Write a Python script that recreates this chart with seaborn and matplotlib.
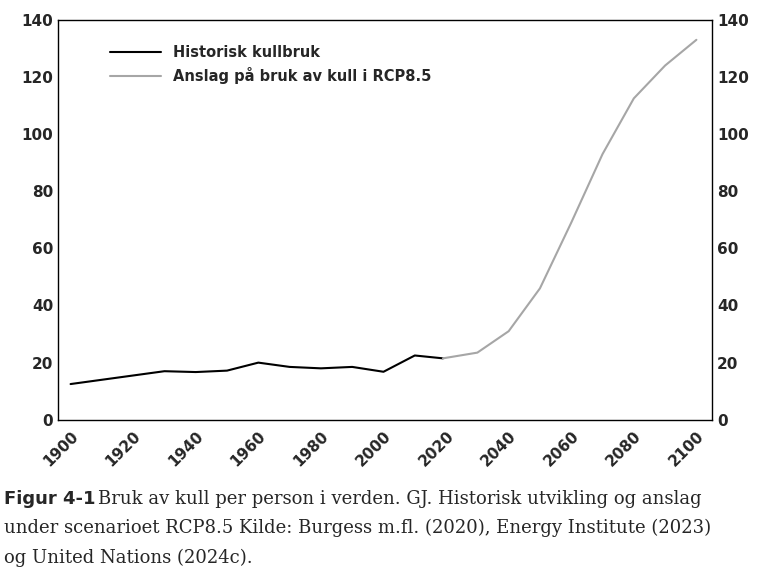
import numpy as np
import pandas as pd
import matplotlib.pyplot as plt
import seaborn as sns

hist_years = [1900, 1910, 1920, 1930, 1940, 1950, 1960, 1970, 1980, 1990, 2000, 2010, 2019]
hist_values = [12.5, 14, 15.5, 17, 16.7, 17.2, 20, 18.5, 18, 18.5, 16.8, 22.5, 21.5]
proj_years = [2019, 2030, 2040, 2050, 2060, 2070, 2080, 2090, 2100]
proj_values = [21.5, 23.5, 31, 46, 69, 93, 112.5, 124, 133]
x_ticks = list(range(1900, 2101, 20))

sns.set_style('white')
fig, ax = plt.subplots(figsize=(7.64, 5.83), dpi=100)
fig.subplots_adjust(left=0.076, right=0.932, top=0.966, bottom=0.28)

# Historical and projected series
sns.lineplot(x=hist_years, y=hist_values, ax=ax, color='black', lw=1.5, label='Historisk kullbruk')
sns.lineplot(x=proj_years, y=proj_values, ax=ax, color='#a6a6a6', lw=1.5, label='Anslag på bruk av kull i RCP8.5')

ax.set_xlim(1896, 2105)
ax.set_ylim(0, 140)
ax.set_xticks(x_ticks)
ax.set_xticklabels(x_ticks, rotation=45, ha='right', rotation_mode='anchor', fontsize=11, fontweight='bold')
ax.set_yticks(range(0, 141, 20))
ax.tick_params(axis='y', labelsize=11, labelright=True, right=True, length=0)
ax.tick_params(axis='x', length=0, pad=6)
for lbl in ax.get_yticklabels():
    lbl.set_fontweight('bold')
for s in ax.spines.values():
    s.set_linewidth(1.0)
    s.set_color('black')

leg = ax.legend(loc='upper left', bbox_to_anchor=(0.06, 0.97), frameon=False,
                prop={'size': 10.5, 'weight': 'bold'}, handlelength=3.5)

# Caption
fig.text(0.005, 0.135, 'Figur 4-1', fontsize=13, fontweight='bold', family='DejaVu Sans')
fig.text(0.128, 0.135, 'Bruk av kull per person i verden. GJ. Historisk utvikling og anslag',
         fontsize=13, family='DejaVu Serif')
fig.text(0.005, 0.085, 'under scenarioet RCP8.5 Kilde: Burgess m.fl. (2020), Energy Institute (2023)',
         fontsize=13, family='DejaVu Serif')
fig.text(0.005, 0.035, 'og United Nations (2024c).', fontsize=13, family='DejaVu Serif')

plt.savefig('out.png')
plt.close()
